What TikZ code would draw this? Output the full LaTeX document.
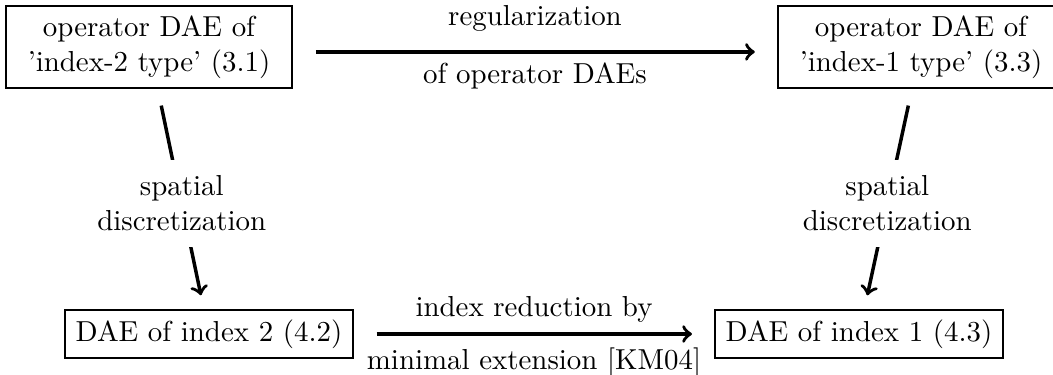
\documentclass[tikz,border=0pt]{standalone}
\begin{document}
\begin{tikzpicture}[x=0.346pt,y=-0.346pt,
  opbox/.style={draw,align=center,minimum width=99pt,minimum height=28.4pt,inner sep=3.3pt},
  daebox/.style={draw,minimum width=99.6pt,minimum height=16.6pt,inner sep=3.3pt},
  arr/.style={->,line width=1.2pt},
  hshort/.style={shorten <=8pt,shorten >=7.8pt},
  dshort/.style={shorten <=6pt,shorten >=5pt},
  lab/.style={fill=white,align=center,inner sep=5.5pt}]
  \useasboundingbox (0,0) rectangle (1053,375);
  \node[opbox] (opl) at (149,47) {operator DAE of\\'index-2 type' (3.1)};
  \node[opbox] (opr) at (921,47) {operator DAE of\\'index-1 type' (3.3)};
  \node[daebox] (dl) at (209,334) {DAE of index 2 (4.2)};
  \node[daebox] (dr) at (859,334) {DAE of index 1 (4.3)};
  \draw[arr,hshort] ([yshift=-1.7pt]opl.east) -- ([yshift=-1.7pt]opr.west)
    node[midway,above=3pt] {regularization}
    node[midway,below=0pt] {of operator DAEs};
  \draw[arr,hshort] (dl) -- (dr)
    node[midway,above=0pt] {index reduction by}
    node[midway,below=1pt] {minimal extension [KM04]};
  \draw[arr,dshort] (opl) -- (dl) node[lab,pos=0.52] {spatial\\discretization};
  \draw[arr,dshort] (opr) -- (dr) node[lab,pos=0.52] {spatial\\discretization};
\end{tikzpicture}
\end{document}
